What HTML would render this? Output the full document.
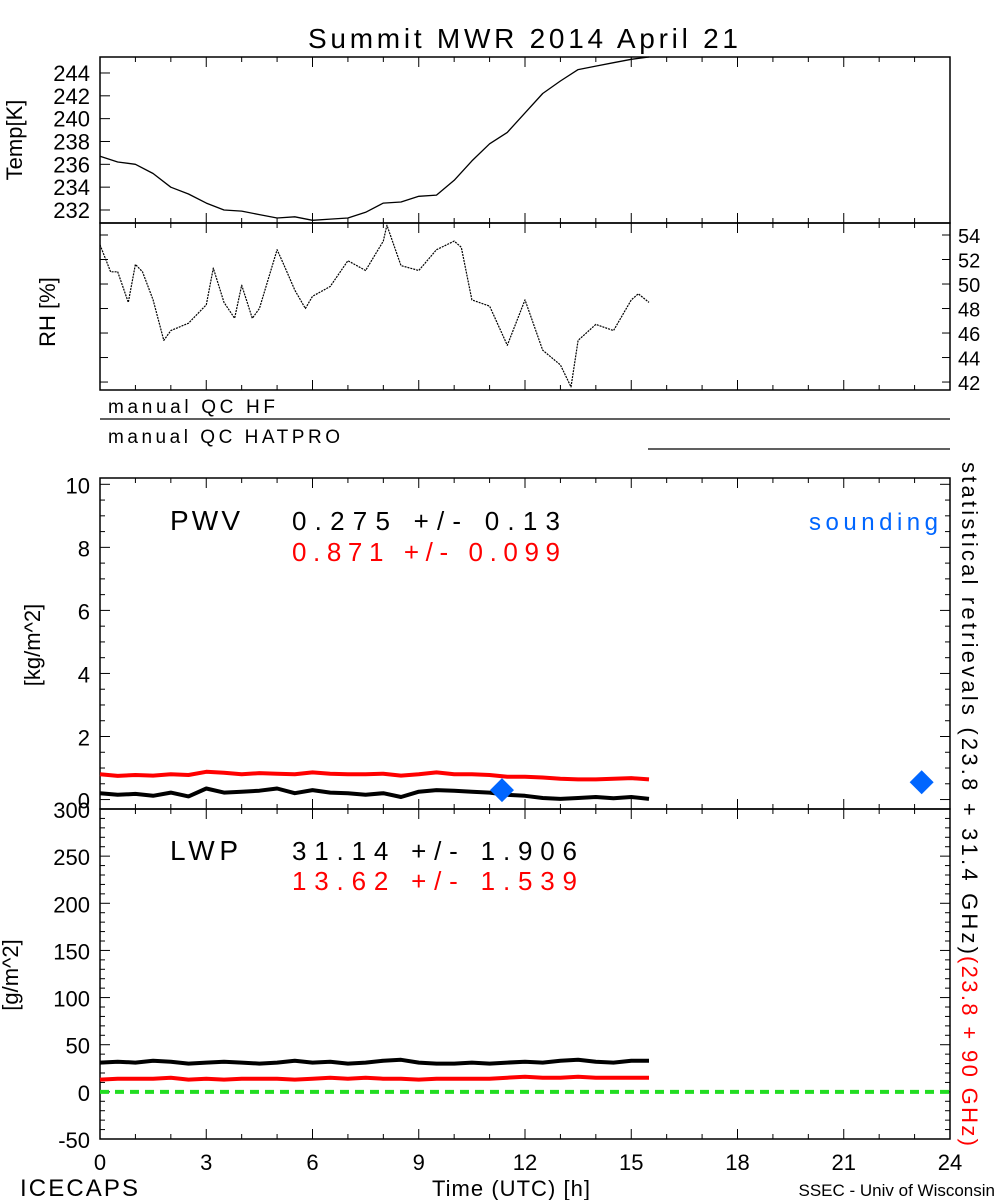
<!DOCTYPE html>
<html><head><meta charset="utf-8">
<style>
html,body{margin:0;padding:0;background:#fff;}
svg{display:block;font-family:"Liberation Sans",sans-serif;}
</style></head>
<body>
<svg id="c" width="1000" height="1200" viewBox="0 0 1000 1200"></svg>
<script>
// ---- data ----
const tempHours = [0,0.5,1,1.5,2,2.5,3,3.5,4,4.5,5,5.5,6,6.5,7,7.5,8,8.5,9,9.5,10,10.5,11,11.5,12,12.5,13,13.5,14,14.5,15,15.5];
const tempValues = [236.7,236.2,236.0,235.2,234.0,233.4,232.6,232.0,231.9,231.6,231.3,231.4,231.1,231.2,231.3,231.8,232.6,232.7,233.2,233.3,234.6,236.3,237.8,238.8,240.5,242.2,243.3,244.3,244.6,244.9,245.2,245.4];
const rhHours = [0,0.3,0.5,0.8,1,1.2,1.5,1.8,2,2.5,3,3.2,3.5,3.8,4,4.3,4.5,5,5.2,5.5,5.8,6,6.5,7,7.5,8,8.1,8.5,9,9.5,10,10.2,10.5,11,11.5,12,12.5,13,13.3,13.5,14,14.5,15,15.2,15.5];
const rhValues = [53.2,51.0,51.0,48.5,51.6,51.0,48.7,45.4,46.2,46.8,48.3,51.3,48.5,47.2,49.9,47.2,48.0,52.8,51.5,49.5,48.0,49.0,49.8,51.9,51.1,53.5,54.8,51.5,51.1,52.8,53.5,53.0,48.7,48.2,45.0,48.7,44.6,43.4,41.6,45.4,46.7,46.2,48.7,49.2,48.5];
const pwvHours = [0,0.5,1,1.5,2,2.5,3,3.5,4,4.5,5,5.5,6,6.5,7,7.5,8,8.5,9,9.5,10,10.5,11,11.5,12,12.5,13,13.5,14,14.5,15,15.5];
const pwvBlack = [0.20,0.15,0.18,0.12,0.22,0.10,0.35,0.22,0.25,0.28,0.35,0.20,0.30,0.22,0.20,0.15,0.20,0.08,0.25,0.30,0.28,0.25,0.22,0.15,0.12,0.05,0.02,0.05,0.08,0.04,0.08,0.02];
const pwvRed = [0.80,0.75,0.78,0.76,0.80,0.78,0.88,0.85,0.80,0.84,0.82,0.80,0.86,0.82,0.80,0.80,0.82,0.76,0.80,0.86,0.80,0.80,0.78,0.72,0.72,0.70,0.66,0.64,0.64,0.66,0.68,0.64];
const lwpHours = pwvHours;
const lwpBlack = [31,32,31,33,32,30,31,32,31,30,31,33,31,32,30,31,33,34,31,30,30,31,30,31,32,31,33,34,32,31,33,33];
const lwpRed = [13,14,14,14,15,13,14,13,14,14,14,13,14,15,14,15,14,14,13,14,14,14,14,15,16,15,15,16,15,15,15,15];
const soundingHours = [11.35,23.2];
const soundingPwv = [0.3,0.55];
const xTickLabels = ["0","3","6","9","12","15","18","21","24"];
const tempTicks = [232,234,236,238,240,242,244];
const rhTicks = [42,44,46,48,50,52,54];
const pwvTicks = [0,2,4,6,8,10];
const lwpTicks = [-50,0,50,100,150,200,250,300];

// ---- scales ----
const X0=100,X1=950;
const xs=h=>X0+(X1-X0)*h/24;
const lin=(d0,d1,r0,r1)=>v=>r0+(v-d0)*(r1-r0)/(d1-d0);
const yT=lin(230.86,245.4,223,57);
const yR=lin(41.35,54.98,390,223);
const yP=lin(-0.3,10.2,809,478);
const yL=lin(-50,300,1139,809);

const svg=document.getElementById('c');
const NS='http://www.w3.org/2000/svg';
function mk(tag,at,parent){const e=document.createElementNS(NS,tag);for(const k in at)e.setAttribute(k,at[k]);(parent||svg).appendChild(e);return e;}
function txt(s,x,y,size,color,anchor,name,extra){const e=mk('text',Object.assign({x:x,y:y,'font-size':size,fill:color||'#000','text-anchor':anchor||'start'},extra||{}));e.textContent=s;


return e;}
function line(hs,vs,ys,color,w,name,dash){let d='';hs.forEach((h,i)=>{d+=(i?'L':'M')+xs(h).toFixed(1)+','+ys(vs[i]).toFixed(1);});const p=mk('path',{d:d,fill:'none',stroke:color,'stroke-width':w,'stroke-linejoin':'round'});if(dash)p.setAttribute('stroke-dasharray',dash);


return p;}
function box(y0,y1,name){const r=mk('rect',{x:X0,y:y0,width:X1-X0,height:y1-y0,fill:'none',stroke:'#000','stroke-width':1.5});


for(let h=0;h<=24;h+=1){const L=(h%3===0)?10:5;mk('line',{x1:xs(h),x2:xs(h),y1:y1,y2:y1-L,stroke:'#000'});mk('line',{x1:xs(h),x2:xs(h),y1:y0,y2:y0+L,stroke:'#000'});}
}
const fit=(w)=>({textLength:w,lengthAdjust:'spacing','xml:space':'preserve'});
// title
txt('Summit MWR 2014 April 21',308,48,28,'#000','start','chart-title',fit(430));
// temp panel
box(57,223,'temp-panel');
tempTicks.forEach(v=>{txt(String(v),90,yT(v)+8,22,'#000','end','temp-tick-label');mk('line',{x1:X0,x2:X0+10,y1:yT(v),y2:yT(v),stroke:'#000'});});
txt('Temp[K]',0,0,22,'#000','middle','temp-axis-title',{transform:'translate(22,140) rotate(-90)'});
line(tempHours,tempValues,yT,'#000',1.3,'temp-line');
// RH panel
box(223,390,'rh-panel');
rhTicks.forEach(v=>{txt(String(v),958,yR(v)+8,20,'#000','start','rh-tick-label');mk('line',{x1:X0,x2:X0+8,y1:yR(v),y2:yR(v),stroke:'#000'});mk('line',{x1:X1,x2:X1-8,y1:yR(v),y2:yR(v),stroke:'#000'});});
txt('RH [%]',0,0,22,'#000','middle','rh-axis-title',{transform:'translate(55,312) rotate(-90)'});
line(rhHours,rhValues,yR,'#000',1.2,'rh-line','2,1');
// QC lines
txt('manual QC HF',108,413,19,'#000','start','qc-hf-label',fit(167));
let q=mk('line',{x1:100,x2:950,y1:419,y2:419,stroke:'#000','stroke-width':1.3});


txt('manual QC HATPRO',108,443,19,'#000','start','qc-hatpro-label',fit(232));
q=mk('line',{x1:648,x2:950,y1:449,y2:449,stroke:'#000','stroke-width':1.3});


// PWV panel
box(478,809,'pwv-panel');
pwvTicks.forEach(v=>{txt(String(v),90,yP(v)+9,22,'#000','end','pwv-tick-label');});
for(let v=0;v<=10;v+=0.5){const L=(v%2===0)?10:5;mk('line',{x1:X0,x2:X0+L,y1:yP(v),y2:yP(v),stroke:'#000'});mk('line',{x1:X1,x2:X1-L,y1:yP(v),y2:yP(v),stroke:'#000'});}
txt('[kg/m^2]',0,0,22,'#000','middle','pwv-axis-title',{transform:'translate(40,645) rotate(-90)'});
txt('PWV',170,530,28,'#000','start','pwv-label',fit(70));
txt('0.275 +/-   0.13',292,530,26,'#000','start','pwv-stat-black',fit(268));
txt('0.871 +/- 0.099',292,561,26,'#f00','start','pwv-stat-red',fit(268));
txt('sounding',938,530,24,'#0066ff','end','sounding-legend',fit(129));
line(pwvHours,pwvRed,yP,'#f00',4,'pwv-red-line');
line(pwvHours,pwvBlack,yP,'#000',4,'pwv-black-line');
soundingHours.forEach((h,i)=>{const cx=xs(h),cy=yP(soundingPwv[i]);const d=mk('polygon',{points:`${cx},${cy-12} ${cx+12},${cy} ${cx},${cy+12} ${cx-12},${cy}`,fill:'#0066ff'});

});
// LWP panel
box(809,1139,'lwp-panel');
lwpTicks.forEach(v=>{txt(String(v),90,yL(v)+9,22,'#000','end','lwp-tick-label');});
for(let v=-50;v<=300;v+=10){const L=(v%50===0)?10:5;mk('line',{x1:X0,x2:X0+L,y1:yL(v),y2:yL(v),stroke:'#000'});mk('line',{x1:X1,x2:X1-L,y1:yL(v),y2:yL(v),stroke:'#000'});}
txt('[g/m^2]',0,0,22,'#000','middle','lwp-axis-title',{transform:'translate(18,975) rotate(-90)'});
txt('LWP',170,860,28,'#000','start','lwp-label',fit(68));
txt('31.14 +/-   1.906',292,860,26,'#000','start','lwp-stat-black',fit(285));
txt('13.62 +/-   1.539',292,890,26,'#f00','start','lwp-stat-red',fit(285));
line([0,24],[0,0],yL,'#22dd22',4,'zero-line','9,6');
line(lwpHours,lwpBlack,yL,'#000',4,'lwp-black-line');
line(lwpHours,lwpRed,yL,'#f00',4,'lwp-red-line');
// x labels
xTickLabels.forEach((s,i)=>{txt(s,xs(i*3),1170,22,'#000','middle','x-tick-label');});
txt('ICECAPS',20,1196,24,'#000','start','icecaps-label',fit(118));
txt('Time (UTC) [h]',432,1196,22,'#000','start','x-axis-title',fit(158));
txt('SSEC - Univ of Wisconsin',995,1196,17,'#000','end','ssec-credit');
// right vertical title
const rt=mk('text',{transform:'translate(962,462) rotate(90)','font-size':22,fill:'#000'});


const s1=mk('tspan',{x:0,y:0,textLength:492,lengthAdjust:'spacing'},rt);s1.textContent='statistical retrievals (23.8 + 31.4 GHz)';
const s2=mk('tspan',{x:494,y:0,fill:'#f00',textLength:190,lengthAdjust:'spacing'},rt);s2.textContent='(23.8 + 90 GHz)';
</script>
</body></html>
